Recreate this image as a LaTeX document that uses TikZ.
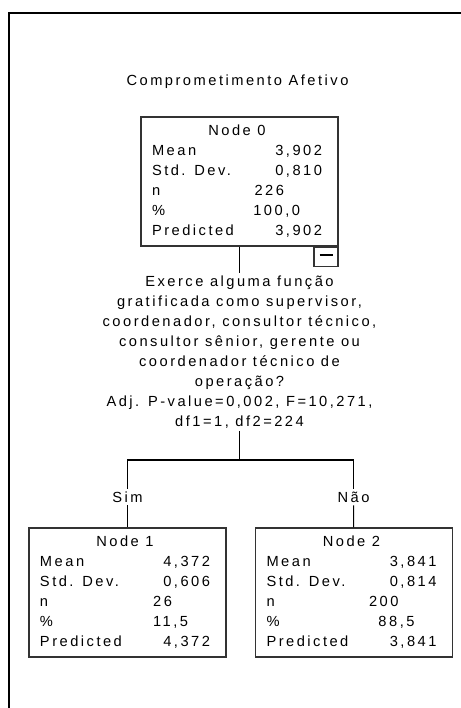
\documentclass[tikz,border=0pt]{standalone}
\usepackage{fontspec}
\setmainfont{Liberation Sans}[LetterSpace=17]
\usetikzlibrary{positioning}
\newcommand{\statrow}[2]{\makebox[127.5pt]{#1\hfill#2}}

\begin{document}
\begin{tikzpicture}[
  x=0.75pt, y=-0.75pt,
  font=\fontsize{11}{15}\selectfont,
  statbox/.style={rectangle, draw=black!80, line width=0.9pt, minimum width=147.75pt, minimum height=96.75pt, inner sep=0pt},
  toggle/.style={rectangle, draw=black!80, line width=0.9pt, minimum width=18pt, minimum height=14.25pt, inner sep=0pt},
  question/.style={align=center, inner sep=2pt},
  branch/.style={inner sep=2pt},
  link/.style={line width=0.8pt},
  frame/.style={line width=1.5pt}
]
  \useasboundingbox (0,0) rectangle (461,708);
  \draw[frame] (461,13) -| (9,708);

  \node (title) at (237.5,82) {Comprometimento Afetivo};

  \node[statbox] (n0) at (239.5,181.5) {\begin{tabular}{@{\hspace{8.25pt}}l@{\hspace{12pt}}}
    \makebox[127.5pt]{Node 0}\\
    \statrow{Mean}{3,902}\\
    \statrow{Std. Dev.}{0,810}\\
    \statrow{n}{226\hspace{28.5pt}}\\
    \statrow{\%}{100,0\hspace{16.5pt}}\\
    \statrow{Predicted}{3,902}
  \end{tabular}};
  \node[toggle, anchor=north east] (n0tog) at (n0.south east) {\rule[2.6pt]{9.75pt}{0.8pt}};

  \node[question, below=19.5pt of n0] (q) {Exerce alguma função\\
    gratificada como supervisor,\\
    coordenador, consultor técnico,\\
    consultor sênior, gerente ou\\
    coordenador técnico de\\
    operação?\\
    Adj. P-value=0,002, F=10,271,\\
    df1=1, df2=224};
  \coordinate[below=21.75pt of q] (split);

  \node[branch] (sim) at (127.5,497) {Sim};
  \node[branch] (nao) at (353.5,497) {Não};

  \node[statbox] (n1) at (127.5,592.5) {\begin{tabular}{@{\hspace{8.25pt}}l@{\hspace{12pt}}}
    \makebox[127.5pt]{Node 1}\\
    \statrow{Mean}{4,372}\\
    \statrow{Std. Dev.}{0,606}\\
    \statrow{n}{26\hspace{28.5pt}}\\
    \statrow{\%}{11,5\hspace{16.5pt}}\\
    \statrow{Predicted}{4,372}
  \end{tabular}};
  \node[statbox] (n2) at (354,592.5) {\begin{tabular}{@{\hspace{8.25pt}}l@{\hspace{12pt}}}
    \makebox[127.5pt]{Node 2}\\
    \statrow{Mean}{3,841}\\
    \statrow{Std. Dev.}{0,814}\\
    \statrow{n}{200\hspace{28.5pt}}\\
    \statrow{\%}{88,5\hspace{16.5pt}}\\
    \statrow{Predicted}{3,841}
  \end{tabular}};

  \draw[link] (n0) -- (q);
  \draw[link] (q) -- (split);
  \draw[link] (sim) |- (split) -| (nao);
  \draw[link] (sim) -- (n1);
  \draw[link] (nao) -- (n2);
\end{tikzpicture}
\end{document}
